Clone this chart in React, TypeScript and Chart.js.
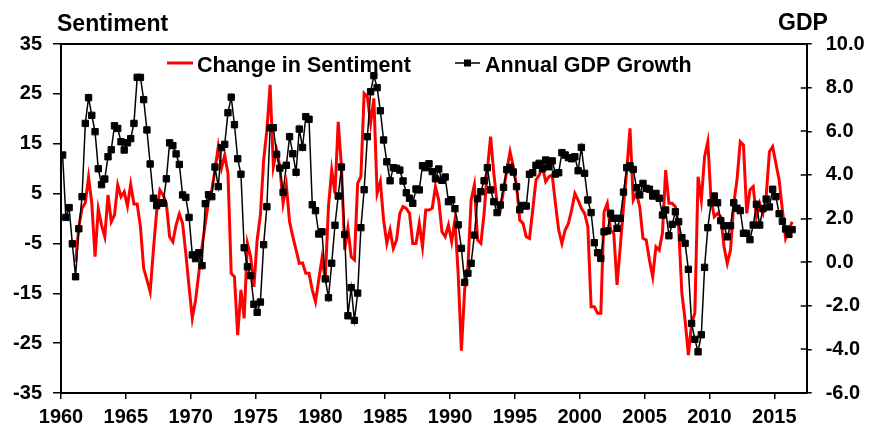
import React, { useEffect, useRef } from "react";
import { Chart, registerables } from "chart.js";

Chart.register(...registerables);

// ---- Data ----
const gdpStartYear = 1960; // quarterly, starts 1960 Q1
const gdpGrowth: number[] = [
  4.91, 2.05, 2.5, 0.84, -0.67, 1.53, 3.0, 6.36, 7.54, 6.73, 5.98, 4.28, 3.55, 3.81, 4.83, 5.15, 6.25, 6.13, 5.52, 5.14,
  5.47, 5.66, 6.36, 8.47, 8.47, 7.45, 6.06, 4.5, 2.93, 2.59, 2.72, 2.7, 3.82, 5.47, 5.34, 4.96, 4.48, 3.08, 2.97, 2.05,
  0.33, 0.16, 0.43, -0.16, 2.68, 3.09, 3.0, 4.36, 3.46, 5.25, 5.4, 6.85, 7.56, 6.3, 4.74, 4.03, 0.66, -0.21, -0.62, -1.93,
  -2.3, -1.83, 0.8, 2.54, 6.16, 6.16, 4.94, 4.31, 3.2, 4.44, 5.75, 4.97, 4.12, 6.1,
  5.26, 6.67, 6.55, 2.63, 2.36, 1.29, 1.39, -0.77, -1.63, -0.05, 1.69, 3.03, 4.36, 1.27, -2.46, -1.17, -2.67, -1.42, 1.58, 3.32,
  5.75, 7.81, 8.55, 8.0, 6.94, 5.6, 4.6, 3.73, 4.33, 4.3, 4.22, 3.72, 3.18, 2.93, 2.7, 3.35, 3.31, 4.42, 4.33, 4.51,
  4.15, 3.82, 4.27, 3.75, 3.9, 2.77, 2.86, 2.45, 1.71, 0.63, -0.93, -0.51, -0.05, 1.24, 2.91, 3.23, 3.73, 4.33, 3.31, 2.77,
  2.27, 2.62, 3.43, 4.24, 4.35, 4.13, 3.46, 2.4, 2.6, 2.57,
  4.03, 4.1, 4.44, 4.53, 4.28, 4.68, 4.37, 4.64, 4.04, 4.1, 5.02, 4.91, 4.79, 4.74, 4.83, 4.19, 5.26, 4.07, 2.85, 2.27,
  0.89, 0.43, 0.17, 1.39, 1.43, 2.24, 2.01, 1.55, 2.01, 3.21, 4.33, 4.42, 4.25, 3.41, 3.08, 3.61, 3.38, 3.34, 3.03, 3.15,
  2.93, 2.16, 2.39, 1.21, 1.73, 2.31, 1.85, 1.12, 0.86, -0.33, -2.81, -3.54, -4.11, -3.33, -0.24, 1.58, 2.72, 3.03, 2.72, 1.9,
  1.67, 1.16, 1.67, 2.72, 2.47, 2.36, 1.32, 1.32, 1.03, 1.7, 2.65, 1.7, 2.45, 2.89, 2.53, 3.34, 3.0, 2.22, 1.87, 1.52,
  1.27, 1.49,
];

const sentimentStartYear = 1961; // quarterly, starts 1961 Q1
const sentimentChange: number[] = [
  -8.7, -1.65, 2.04, 3.17, 8.26, 3.04, -7.67, 1.9, -1.31, -3.65, 4.71, -0.65, 0.7, 6.71, 4.37, 5.37, 2.5, 6.85, 2.9, 2.9,
  -1.65, -10.0, -12.3, -14.7, -6.3, 1.36, 5.71, 4.71, 3.04, -3.65, -4.66, -1.31, 0.9, -0.97, -6.99, -13.7, -20.0, -16.4, -11.0, -5.66,
  -0.97, 3.37, 5.71, 9.72, 14.4, 10.1, 12.7, 9.06, -11.0, -11.7, -23.4, -14.3, -20.0, -5.0, -7.67, -13.7, -4.3, 0.7, 11.7, 17.7,
  26.8, 10.4, 13.7, 10.4, 3.04, 6.71, -0.65, -3.65, -6.3, -9.0,
  -8.9, -11.0, -11.0, -14.3, -16.7, -12.3, -8.0, -12.3, 2.4, 9.7, 5.04, 19.4, 10.4, -6.3, -1.97, -7.67, -8.3, 7.05, 8.4, 25.1,
  24.4, 19.1, 24.1, 5.04, 7.4, -0.3, -5.0, -2.3, -6.0, -4.3, 1.04, 2.4, 2.04, 1.04, -5.0, -5.0, -0.97, -5.66, 1.7, 1.7,
  2.04, 6.4, 3.7, -2.65, -3.65, -1.31, -4.66, -0.3, -11.0, -26.5, -14.3, -9.7, 3.7, 6.7, -4.3, -5.0, 1.04, 9.7, 16.4, 9.06,
  3.04, 1.7, 5.7, 9.7, 13.4, 10.4, 6.7, -0.3, -0.97, -3.65, -4.0,
  1.7, 7.72, 8.72, 10.39, 7.38, 8.39, 8.72, 3.04, -2.31, -4.99, -2.31, -0.98, 1.7, 5.04, 3.71, 2.03, 1.03, -1.65, -17.7, -17.7,
  -19.0, -19.0, 1.36, 3.04, -2.31, -2.98, -13.3, -5.66, 2.37, 9.72, 18.08, 3.71, 5.04, 2.37, -3.98, -4.32, -8.33, -11.7, -5.66, -6.33,
  -2.98, 9.72, 3.04, 3.04, 2.37, -1.65, -15.0, -20.4, -27.4, -21.0, -19.0, 8.39, 3.71, 12.4, 15.4, 3.71, 0.36, 1.03, 0.36, -5.66,
  -9.0, -6.33, 3.04, 7.72, 15.4, 14.7, 1.03, 5.71, 6.38, 0.36, 3.04, 1.03, 4.37, 13.4, 14.4, 11.06, 7.72, 1.7, -3.98, -2.31,
  -0.64,
];

const xMin = 1960;
const xMax = 2017.5;
const xTickYears = [1960, 1965, 1970, 1975, 1980, 1985, 1990, 1995, 2000, 2005, 2010, 2015];
const leftMin = -35;
const leftMax = 35;
const leftStep = 10;
const rightMin = -6;
const rightMax = 10;
const rightStep = 2;

const seriesNames = ["Change in Sentiment", "Annual GDP Growth"];
const leftTitle = "Sentiment";
const rightTitle = "GDP";

const FONT = '"Liberation Sans", Arial, Helvetica, sans-serif';

const toPoints = (start: number, vals: number[]) =>
  vals.map((v, i) => ({ x: start + (i + 0.5) / 4, y: v }));

const decorPlugin = {
  id: "decor",
  afterDraw(chart: any) {
    const { ctx, chartArea: a } = chart;
    ctx.save();
    ctx.strokeStyle = "#000";
    // top frame line
    ctx.lineWidth = 2;
    ctx.beginPath();
    ctx.moveTo(a.left - 1, a.top);
    ctx.lineTo(a.right + 1, a.top);
    ctx.stroke();
    // inner part of right-axis ticks (crossing ticks)
    const y1 = chart.scales.y1;
    ctx.lineWidth = 1.5;
    y1.ticks.forEach((t: any) => {
      const y = Math.round(y1.getPixelForValue(t.value));
      ctx.beginPath();
      ctx.moveTo(a.right - 6, y);
      ctx.lineTo(a.right, y);
      ctx.stroke();
    });
    // axis titles
    ctx.fillStyle = "#000";
    ctx.textAlign = "left";
    ctx.textBaseline = "alphabetic";
    ctx.font = `bold 23px ${FONT}`;
    ctx.fillText(leftTitle, 57, 31);
    ctx.fillText(rightTitle, 778, 30);
    // legend
    ctx.font = `bold 21.5px ${FONT}`;
    const ly = 63;
    ctx.strokeStyle = "#ff0000";
    ctx.lineWidth = 3;
    ctx.beginPath();
    ctx.moveTo(167, ly);
    ctx.lineTo(193, ly);
    ctx.stroke();
    ctx.fillText(seriesNames[0], 197, 71.5);
    ctx.strokeStyle = "#000";
    ctx.lineWidth = 1.5;
    ctx.beginPath();
    ctx.moveTo(455, ly);
    ctx.lineTo(480, ly);
    ctx.stroke();
    ctx.fillRect(464, ly - 3.5, 7, 7);
    ctx.fillText(seriesNames[1], 485, 71.5);
    ctx.restore();
  },
};

export default function App() {
  const ref = useRef<HTMLCanvasElement | null>(null);

  useEffect(() => {
    document.body.style.margin = "0";
    const canvas = ref.current;
    if (!canvas) return;
    const tickFont = { family: FONT, size: 20, weight: "bold" as const };
    const chart = new Chart(canvas, {
      type: "line",
      data: {
        datasets: [
          {
            label: seriesNames[1],
            data: toPoints(gdpStartYear, gdpGrowth),
            yAxisID: "y1",
            borderColor: "#000",
            borderWidth: 1.5,
            pointStyle: "rect",
            pointRadius: 4.5,
            pointBackgroundColor: "#000",
            pointBorderColor: "#000",
            pointBorderWidth: 1,
            tension: 0,
            order: 0,
          },
          {
            label: seriesNames[0],
            data: toPoints(sentimentStartYear, sentimentChange),
            yAxisID: "y",
            borderColor: "#ff0000",
            borderWidth: 3,
            pointRadius: 0,
            tension: 0,
            order: 1,
          },
        ],
      },
      options: {
        responsive: false,
        maintainAspectRatio: false,
        animation: false,
        devicePixelRatio: 1,
        layout: { padding: { top: 44, left: 0, right: 0, bottom: 0 } },
        plugins: { legend: { display: false }, tooltip: { enabled: false } },
        scales: {
          x: {
            type: "linear",
            position: "bottom",
            min: xMin,
            max: xMax,
            afterBuildTicks: (s: any) => {
              s.ticks = xTickYears.map((v) => ({ value: v }));
            },
            afterFit: (s: any) => {
              s.height = 39;
            },
            ticks: {
              autoSkip: false,
              maxRotation: 0,
              color: "#000",
              font: tickFont,
              padding: 6,
              callback: (v: any) => String(Math.round(Number(v))),
            },
            grid: { drawOnChartArea: false, drawTicks: true, tickLength: 6, color: "#000", lineWidth: 1.5 },
            border: { display: true, color: "#000", width: 2 },
          },
          y: {
            type: "linear",
            position: "left",
            min: leftMin,
            max: leftMax,
            afterFit: (s: any) => {
              s.width = 61;
            },
            ticks: {
              stepSize: leftStep,
              color: "#000",
              font: tickFont,
              padding: 11,
              callback: (v: any) => String(v),
            },
            grid: { drawOnChartArea: false, drawTicks: true, tickLength: 8, color: "#000", lineWidth: 1.5 },
            border: { display: true, color: "#000", width: 2 },
          },
          y1: {
            type: "linear",
            position: "right",
            min: rightMin,
            max: rightMax,
            afterFit: (s: any) => {
              s.width = 63.3;
            },
            ticks: {
              stepSize: rightStep,
              color: "#000",
              font: tickFont,
              padding: 14,
              callback: (v: any) => Number(v).toFixed(1),
            },
            grid: { drawOnChartArea: false, drawTicks: true, tickLength: 5, color: "#000", lineWidth: 1.5 },
            border: { display: true, color: "#000", width: 2 },
          },
        },
      },
      plugins: [decorPlugin],
    });
    return () => chart.destroy();
  }, []);

  return (
    <div style={{ position: "absolute", left: 0, top: 0, width: 870, height: 432 }}>
      <canvas ref={ref} width={870} height={432} style={{ display: "block" }} />
    </div>
  );
}
